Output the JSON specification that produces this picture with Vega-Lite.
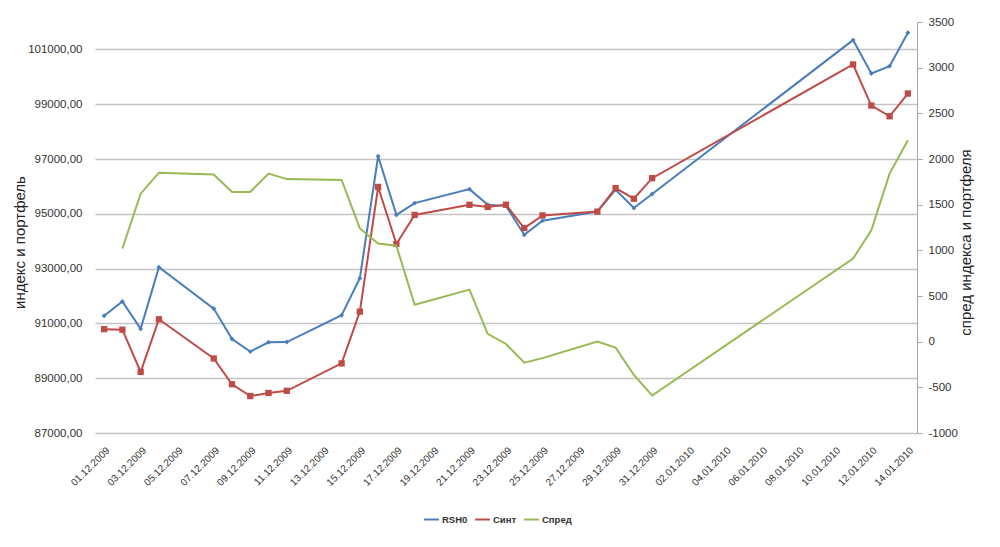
{
  "$schema": "https://vega.github.io/schema/vega-lite/v6.json",
  "width": 822,
  "height": 411,
  "autosize": {"type": "none"},
  "padding": {"left": 95, "top": 22, "right": 83, "bottom": 114},
  "background": "white",
  "config": {
    "view": {"stroke": null},
    "font": "Liberation Sans",
    "axis": {"labelColor": "#333333", "titleColor": "#222222", "labelFont": "Liberation Sans", "titleFont": "Liberation Sans", "titleFontWeight": "normal"},
    "legend": {"labelFont": "Liberation Sans"}
  },
  "data": {
    "values": [
      {"date": "2009-12-01", "series": "RSH0", "value": 91280},
      {"date": "2009-12-02", "series": "RSH0", "value": 91800},
      {"date": "2009-12-03", "series": "RSH0", "value": 90800},
      {"date": "2009-12-04", "series": "RSH0", "value": 93050},
      {"date": "2009-12-07", "series": "RSH0", "value": 91540},
      {"date": "2009-12-08", "series": "RSH0", "value": 90430},
      {"date": "2009-12-09", "series": "RSH0", "value": 89970},
      {"date": "2009-12-10", "series": "RSH0", "value": 90310},
      {"date": "2009-12-11", "series": "RSH0", "value": 90320},
      {"date": "2009-12-14", "series": "RSH0", "value": 91300},
      {"date": "2009-12-15", "series": "RSH0", "value": 92650},
      {"date": "2009-12-16", "series": "RSH0", "value": 97100},
      {"date": "2009-12-17", "series": "RSH0", "value": 94960},
      {"date": "2009-12-18", "series": "RSH0", "value": 95390},
      {"date": "2009-12-21", "series": "RSH0", "value": 95900},
      {"date": "2009-12-22", "series": "RSH0", "value": 95330},
      {"date": "2009-12-23", "series": "RSH0", "value": 95290},
      {"date": "2009-12-24", "series": "RSH0", "value": 94230},
      {"date": "2009-12-25", "series": "RSH0", "value": 94750},
      {"date": "2009-12-28", "series": "RSH0", "value": 95080},
      {"date": "2009-12-29", "series": "RSH0", "value": 95880},
      {"date": "2009-12-30", "series": "RSH0", "value": 95210},
      {"date": "2009-12-31", "series": "RSH0", "value": 95720},
      {"date": "2010-01-11", "series": "RSH0", "value": 101340},
      {"date": "2010-01-12", "series": "RSH0", "value": 100120},
      {"date": "2010-01-13", "series": "RSH0", "value": 100390},
      {"date": "2010-01-14", "series": "RSH0", "value": 101610},
      {"date": "2009-12-01", "series": "Синт", "value": 90790},
      {"date": "2009-12-02", "series": "Синт", "value": 90770},
      {"date": "2009-12-03", "series": "Синт", "value": 89230},
      {"date": "2009-12-04", "series": "Синт", "value": 91150},
      {"date": "2009-12-07", "series": "Синт", "value": 89720},
      {"date": "2009-12-08", "series": "Синт", "value": 88780},
      {"date": "2009-12-09", "series": "Синт", "value": 88350},
      {"date": "2009-12-10", "series": "Синт", "value": 88460},
      {"date": "2009-12-11", "series": "Синт", "value": 88540},
      {"date": "2009-12-14", "series": "Синт", "value": 89540},
      {"date": "2009-12-15", "series": "Синт", "value": 91430},
      {"date": "2009-12-16", "series": "Синт", "value": 95980},
      {"date": "2009-12-17", "series": "Синт", "value": 93900},
      {"date": "2009-12-18", "series": "Синт", "value": 94960},
      {"date": "2009-12-21", "series": "Синт", "value": 95330},
      {"date": "2009-12-22", "series": "Синт", "value": 95250},
      {"date": "2009-12-23", "series": "Синт", "value": 95330},
      {"date": "2009-12-24", "series": "Синт", "value": 94480},
      {"date": "2009-12-25", "series": "Синт", "value": 94940},
      {"date": "2009-12-28", "series": "Синт", "value": 95080},
      {"date": "2009-12-29", "series": "Синт", "value": 95940},
      {"date": "2009-12-30", "series": "Синт", "value": 95550},
      {"date": "2009-12-31", "series": "Синт", "value": 96300},
      {"date": "2010-01-11", "series": "Синт", "value": 100450},
      {"date": "2010-01-12", "series": "Синт", "value": 98950},
      {"date": "2010-01-13", "series": "Синт", "value": 98560},
      {"date": "2010-01-14", "series": "Синт", "value": 99390},
      {"date": "2009-12-02", "series": "Спред", "value": 1020},
      {"date": "2009-12-03", "series": "Спред", "value": 1620},
      {"date": "2009-12-04", "series": "Спред", "value": 1850},
      {"date": "2009-12-07", "series": "Спред", "value": 1830},
      {"date": "2009-12-08", "series": "Спред", "value": 1640},
      {"date": "2009-12-09", "series": "Спред", "value": 1640},
      {"date": "2009-12-10", "series": "Спред", "value": 1840},
      {"date": "2009-12-11", "series": "Спред", "value": 1780},
      {"date": "2009-12-14", "series": "Спред", "value": 1770},
      {"date": "2009-12-15", "series": "Спред", "value": 1240},
      {"date": "2009-12-16", "series": "Спред", "value": 1075},
      {"date": "2009-12-17", "series": "Спред", "value": 1050},
      {"date": "2009-12-18", "series": "Спред", "value": 405},
      {"date": "2009-12-21", "series": "Спред", "value": 570},
      {"date": "2009-12-22", "series": "Спред", "value": 85},
      {"date": "2009-12-23", "series": "Спред", "value": -25},
      {"date": "2009-12-24", "series": "Спред", "value": -230},
      {"date": "2009-12-25", "series": "Спред", "value": -180},
      {"date": "2009-12-28", "series": "Спред", "value": 0},
      {"date": "2009-12-29", "series": "Спред", "value": -65},
      {"date": "2009-12-30", "series": "Спред", "value": -365},
      {"date": "2009-12-31", "series": "Спред", "value": -590},
      {"date": "2010-01-11", "series": "Спред", "value": 910},
      {"date": "2010-01-12", "series": "Спред", "value": 1220},
      {"date": "2010-01-13", "series": "Спред", "value": 1840},
      {"date": "2010-01-14", "series": "Спред", "value": 2205}
    ]
  },
  "encoding": {
    "x": {
      "field": "date",
      "type": "temporal",
      "scale": {
        "type": "utc",
        "domain": [
          {"year": 2009, "month": 11, "date": 30, "hours": 12, "utc": true},
          {"year": 2010, "month": 1, "date": 14, "hours": 12, "utc": true}
        ]
      },
      "axis": {
        "title": null,
        "grid": false,
        "ticks": false,
        "domain": false,
        "labelAngle": -45,
        "labelAlign": "right",
        "labelBaseline": "top",
        "labelFontSize": 10,
        "labelPadding": 12,
        "labelOverlap": false,
        "labelExpr": "utcFormat(datum.value, '%d.%m.%Y')",
        "values": [
          {"year": 2009, "month": 12, "date": 1, "utc": true},
          {"year": 2009, "month": 12, "date": 3, "utc": true},
          {"year": 2009, "month": 12, "date": 5, "utc": true},
          {"year": 2009, "month": 12, "date": 7, "utc": true},
          {"year": 2009, "month": 12, "date": 9, "utc": true},
          {"year": 2009, "month": 12, "date": 11, "utc": true},
          {"year": 2009, "month": 12, "date": 13, "utc": true},
          {"year": 2009, "month": 12, "date": 15, "utc": true},
          {"year": 2009, "month": 12, "date": 17, "utc": true},
          {"year": 2009, "month": 12, "date": 19, "utc": true},
          {"year": 2009, "month": 12, "date": 21, "utc": true},
          {"year": 2009, "month": 12, "date": 23, "utc": true},
          {"year": 2009, "month": 12, "date": 25, "utc": true},
          {"year": 2009, "month": 12, "date": 27, "utc": true},
          {"year": 2009, "month": 12, "date": 29, "utc": true},
          {"year": 2009, "month": 12, "date": 31, "utc": true},
          {"year": 2010, "month": 1, "date": 2, "utc": true},
          {"year": 2010, "month": 1, "date": 4, "utc": true},
          {"year": 2010, "month": 1, "date": 6, "utc": true},
          {"year": 2010, "month": 1, "date": 8, "utc": true},
          {"year": 2010, "month": 1, "date": 10, "utc": true},
          {"year": 2010, "month": 1, "date": 12, "utc": true},
          {"year": 2010, "month": 1, "date": 14, "utc": true}
        ]
      }
    },
    "color": {
      "field": "series",
      "type": "nominal",
      "scale": {"domain": ["RSH0", "Синт", "Спред"], "range": ["#4A7EBB", "#BE4B48", "#98B954"]},
      "legend": {
        "orient": "none",
        "legendX": 328,
        "legendY": 489,
        "direction": "horizontal",
        "title": null,
        "symbolType": "stroke",
        "symbolStrokeWidth": 2,
        "symbolSize": 220,
        "labelFontSize": 9.5,
        "labelFontWeight": "bold",
        "labelColor": "#333333",
        "labelOffset": 2,
        "columnPadding": 3
      }
    }
  },
  "layer": [
    {
      "transform": [{"filter": "datum.series !== 'Спред'"}],
      "encoding": {
        "y": {
          "field": "value",
          "type": "quantitative",
          "scale": {"domain": [87000, 102000], "zero": false, "nice": false},
          "axis": {
            "orient": "left",
            "title": "индекс и портфель",
            "titleFontSize": 15,
            "titlePadding": 0,
            "titleY": 220,
            "values": [87000, 89000, 91000, 93000, 95000, 97000, 99000, 101000],
            "labelExpr": "replace(format(datum.value, '.2f'), '.', ',')",
            "labelFontSize": 11.5,
            "labelPadding": 13,
            "grid": true,
            "gridColor": "#c4c4c4",
            "gridWidth": 1.3,
            "domain": false,
            "ticks": false
          }
        }
      },
      "layer": [
        {"mark": {"type": "line", "strokeWidth": 2}},
        {
          "transform": [{"filter": "datum.series === 'RSH0'"}],
          "mark": {"type": "point", "shape": "diamond", "filled": true, "size": 24, "opacity": 1}
        },
        {
          "transform": [{"filter": "datum.series === 'Синт'"}],
          "mark": {"type": "point", "shape": "square", "filled": true, "size": 40, "opacity": 1}
        }
      ]
    },
    {
      "transform": [{"filter": "datum.series === 'Спред'"}],
      "mark": {"type": "line", "strokeWidth": 2},
      "encoding": {
        "y": {
          "field": "value",
          "type": "quantitative",
          "scale": {"domain": [-1000, 3500], "zero": false, "nice": false},
          "axis": {
            "orient": "right",
            "title": "спред индекса и портфеля",
            "titleFontSize": 15,
            "titleAngle": 270,
            "titlePadding": 16,
            "titleY": 220,
            "values": [-1000, -500, 0, 500, 1000, 1500, 2000, 2500, 3000, 3500],
            "labelExpr": "datum.value + ''",
            "labelFontSize": 11.5,
            "labelPadding": 6,
            "grid": false,
            "domain": true,
            "domainColor": "#a6a6a6",
            "ticks": true,
            "tickColor": "#a6a6a6",
            "tickSize": 5
          }
        }
      }
    }
  ],
  "resolve": {"scale": {"y": "independent"}}
}
